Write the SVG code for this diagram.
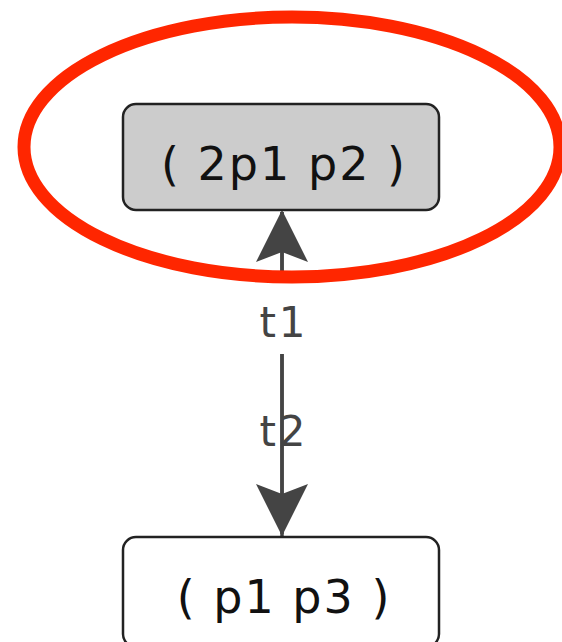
<svg xmlns="http://www.w3.org/2000/svg" width="562" height="642" viewBox="0 0 562 642">
<style>
.node rect{stroke:#222;stroke-width:2.5}
.node text{font-family:"DejaVu Sans",Verdana,sans-serif;font-size:46px;letter-spacing:2px;fill:#111;text-anchor:middle}
.edge{stroke:#444;stroke-width:3.5;fill:none}
.lbl{font-family:"DejaVu Sans",Verdana,sans-serif;font-size:42px;letter-spacing:3px;fill:#444;text-anchor:middle}
</style>
<defs>
<marker id="arr" viewBox="0 0 52 52" refX="50" refY="26" markerWidth="52" markerHeight="52" markerUnits="userSpaceOnUse" orient="auto">
<path d="M0,0 L52,26 L0,52 L10,26 Z" fill="#444"/>
</marker>
</defs>
<rect width="562" height="642" fill="#fff"/>
<g id="connectors">
<line class="edge" x1="282" y1="536" x2="282" y2="212" marker-end="url(#arr)"/>
<line class="edge" x1="282" y1="212" x2="282" y2="534" marker-end="url(#arr)"/>
<rect x="248" y="280" width="68" height="74" fill="#fff"/>
<text class="lbl" x="284" y="337">t1</text>
<text class="lbl" x="284" y="446">t2</text>
</g>
<g id="n1" class="node">
<rect x="123" y="104" width="316" height="106" rx="13" fill="#cccccc"/>
<text x="284" y="180">( 2p1 p2 )</text>
</g>
<g id="n2" class="node">
<rect x="123" y="537" width="316" height="110" rx="13" fill="#fff"/>
<text x="284" y="613">( p1 p3 )</text>
</g>
<ellipse cx="292" cy="147" rx="268" ry="130" fill="none" stroke="#ff2600" stroke-width="13"/>
</svg>
